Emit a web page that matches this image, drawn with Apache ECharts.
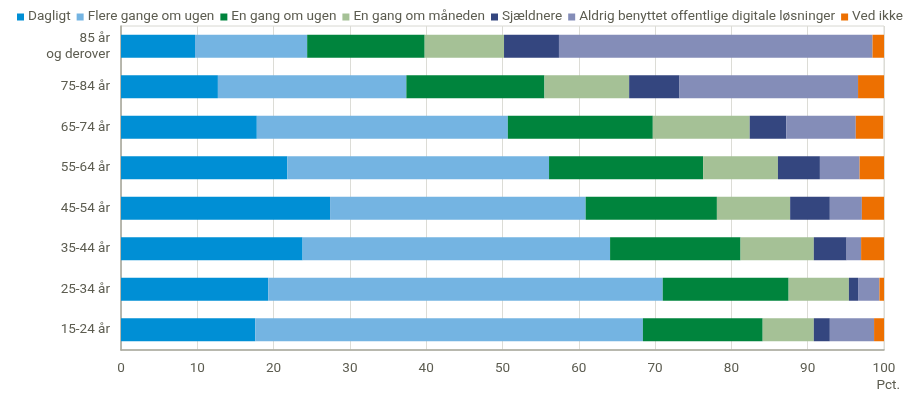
<!DOCTYPE html>
<html>
<head>
<meta charset="utf-8">
<script src="https://cdn.jsdelivr.net/npm/echarts@6/dist/echarts.min.js"></script>
<style>html,body{margin:0;padding:0;background:#fff;}#c{width:905px;height:394px;}</style>
</head>
<body>
<div id="c"></div>
<script>
const categories = ['85 år\nog derover', '75-84 år', '65-74 år', '55-64 år', '45-54 år', '35-44 år', '25-34 år', '15-24 år'];
const seriesNames = ['Dagligt', 'Flere gange om ugen', 'En gang om ugen', 'En gang om måneden', 'Sjældnere', 'Aldrig benyttet offentlige digitale løsninger', 'Ved ikke'];
const dagligt   = [9.7, 12.7, 17.8, 21.8, 27.4, 23.8, 19.3, 17.6];
const flere     = [14.7, 24.7, 32.9, 34.3, 33.5, 40.3, 51.7, 50.8];
const ugen      = [15.4, 18.1, 19.0, 20.2, 17.2, 17.1, 16.5, 15.7];
const maaned    = [10.4, 11.1, 12.7, 9.8, 9.6, 9.6, 7.9, 6.7];
const sjaeldent = [7.2, 6.6, 4.8, 5.5, 5.2, 4.3, 1.2, 2.1];
const aldrig    = [41.1, 23.4, 9.1, 5.2, 4.2, 1.9, 2.8, 5.8];
const vedIkke   = [1.5, 3.5, 3.6, 3.2, 2.9, 3.0, 0.6, 1.4];
const xTicks = [0, 10, 20, 30, 40, 50, 60, 70, 80, 90, 100];

const values = [dagligt, flere, ugen, maaned, sjaeldent, aldrig, vedIkke];
const colors = ['#008fd5', '#74b4e2', '#00843d', '#a5c196', '#34467f', '#848db8', '#ed7001'];
const textColor = '#5c5c50';
const font = 'Roboto';

const chart = echarts.init(document.getElementById('c'), null, {renderer: 'canvas'});
chart.setOption({
  animation: false,
  color: colors,
  textStyle: {fontFamily: font},
  legend: {
    left: 12, top: 5, width: 900,
    itemWidth: 7, itemHeight: 7, itemGap: 6,
    icon: 'rect',
    textStyle: {color: textColor, fontSize: 13.6, fontFamily: font, padding: [0, 0, 0, -1]},
    data: seriesNames
  },
  grid: {
    left: 121, right: 21, top: 26, bottom: 44,
    show: true, borderColor: '#d8d8d2', borderWidth: 1
  },
  xAxis: {
    type: 'value', min: xTicks[0], max: xTicks[xTicks.length - 1], interval: 10,
    axisLine: {show: true, lineStyle: {color: '#a8a89c', width: 1.5}},
    axisTick: {show: false},
    splitLine: {show: true, lineStyle: {color: '#dcdcd6', width: 1}},
    axisLabel: {color: textColor, fontSize: 13.5, margin: 12, fontFamily: font}
  },
  yAxis: {
    type: 'category', data: categories, inverse: true,
    axisLine: {show: true, lineStyle: {color: '#a8a89c', width: 1.5}},
    axisTick: {show: false},
    axisLabel: {color: textColor, fontSize: 13.5, margin: 11, lineHeight: 16, fontFamily: font, align: 'right'}
  },
  graphic: [{
    type: 'text', right: 5, top: 379,
    style: {text: 'Pct.', fill: textColor, font: '13.5px ' + font}
  }],
  series: seriesNames.map((n, i) => ({
    name: n, type: 'bar', stack: 'total', barWidth: 23,
    data: values[i],
    itemStyle: {color: colors[i]}
  }))
});
</script>
</body>
</html>
